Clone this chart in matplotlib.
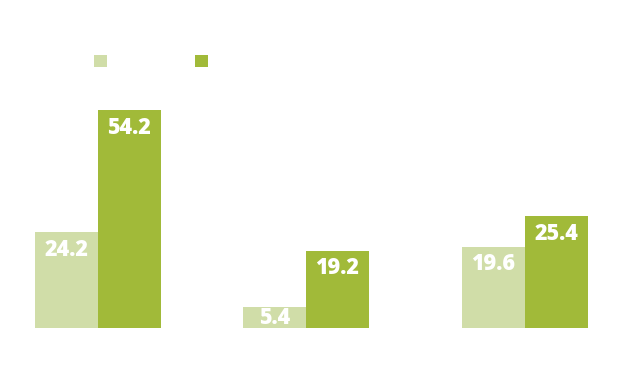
import numpy as np
from matplotlib import pyplot as plt

# data
groups = ['A', 'B', 'C']
labels_light = [24.2, 5.4, 19.6]
labels_dark = [54.2, 19.2, 25.4]
# bar heights as drawn in the picture (not quite proportional to the labels)
heights_light = [23.9, 5.1, 20.2]
heights_dark = [54.2, 19.2, 27.9]

light = '#d0dda8'
dark = '#a1ba39'

fig = plt.figure(figsize=(6.17, 3.70), dpi=100)
ax = fig.add_axes([0.0204, 0.1135, 0.9689, 0.652])

x = np.array([0, 0.974, 2])
w = 0.295

b1 = ax.bar(x - w / 2, heights_light, w, color=light)
b2 = ax.bar(x + w / 2, heights_dark, w, color=dark)

ax.set_xlim(-0.4, 2.4)
ax.set_ylim(0, 60)
ax.axis('off')

# value labels inside the bars
for bars, vals in ((b1, labels_light), (b2, labels_dark)):
    for bar, v in zip(bars, vals):
        h = bar.get_height()
        y = max(h - 4.4, h / 2)
        ax.text(bar.get_x() + bar.get_width() / 2, y, f'{v:.1f}',
                ha='center', va='center', color='white',
                fontsize=15.5, fontweight='heavy', family='Open Sans')

# legend: colour swatches only
fig.legend([b1, b2], ['', ''], ncol=2, frameon=False,
           loc='upper left', bbox_to_anchor=(94 / 617, 1 - 54.5 / 370),
           fontsize=10, handlelength=0.935, handleheight=1.04,
           handletextpad=0, columnspacing=6.33, borderpad=0, borderaxespad=0)

fig.savefig('out.png', dpi=100)
